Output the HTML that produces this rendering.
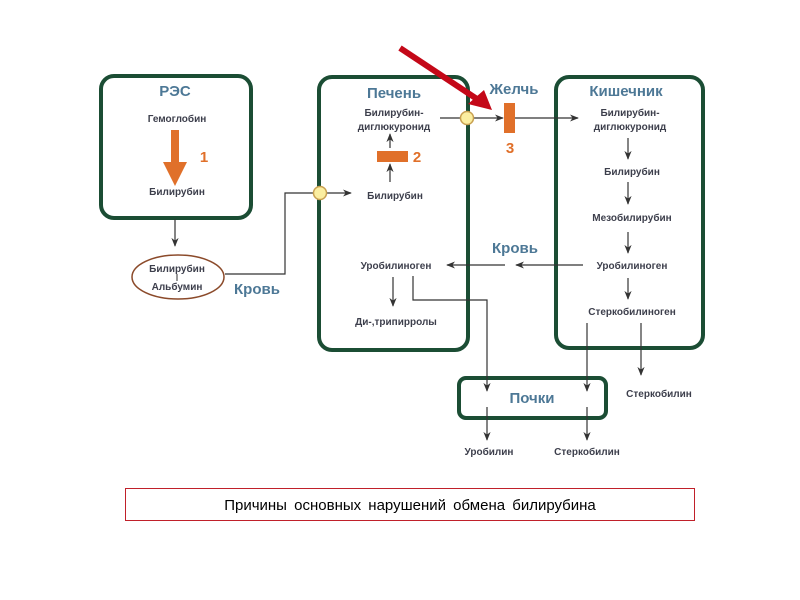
<!DOCTYPE html>
<html><head><meta charset="utf-8"><style>
html,body{margin:0;padding:0;background:#fff;}
svg{display:block;}
.t{font-family:"Liberation Sans",sans-serif;font-weight:bold;font-size:10px;fill:#3d3f4c;text-anchor:middle;}
.h{font-family:"Liberation Sans",sans-serif;font-weight:bold;font-size:15px;fill:#4d7896;text-anchor:middle;}
.o{font-family:"Liberation Sans",sans-serif;font-weight:bold;font-size:15px;fill:#e0702a;text-anchor:middle;}
.b{fill:none;stroke:#1b4d34;stroke-width:4;}
.l{fill:none;stroke:#333;stroke-width:1.2;}
</style></head><body>
<svg width="800" height="600" viewBox="0 0 800 600">
<defs>
<marker id="a" viewBox="0 0 10 10" refX="9" refY="5" markerWidth="9" markerHeight="9" orient="auto" markerUnits="userSpaceOnUse"><path d="M0,1 L10,5 L0,9 L3,5 z" fill="#333"/></marker>
</defs>
<rect class="b" x="101" y="76" width="150" height="142" rx="13"/>
<rect class="b" x="319" y="77" width="149" height="273" rx="13"/>
<rect class="b" x="556" y="77" width="147" height="271" rx="13"/>
<rect class="b" x="459" y="378" width="147" height="40" rx="7"/>
<ellipse cx="178" cy="277" rx="46" ry="22" fill="none" stroke="#8b4a2a" stroke-width="1.5"/>

<text class="h" x="175" y="96">РЭС</text>
<text class="h" x="394" y="98">Печень</text>
<text class="h" x="514" y="94">Желчь</text>
<text class="h" x="626" y="96">Кишечник</text>
<text class="h" x="532" y="403">Почки</text>
<text class="h" x="515" y="253">Кровь</text>
<text class="h" x="257" y="294">Кровь</text>

<text class="t" x="177" y="122">Гемоглобин</text>
<path d="M171,130 h8 v32 h8 l-12,24 l-12,-24 h8 z" fill="#e0702a"/>
<text class="o" x="204" y="162">1</text>
<text class="t" x="177" y="195">Билирубин</text>
<line class="l" x1="175" y1="219" x2="175" y2="246" marker-end="url(#a)"/>
<text class="t" x="177" y="272">Билирубин</text>
<line x1="177" y1="274" x2="177" y2="281" stroke="#333" stroke-width="1"/>
<text class="t" x="177" y="290">Альбумин</text>

<polyline class="l" points="225,274 285,274 285,193 351,193" marker-end="url(#a)"/>
<circle cx="320" cy="193" r="6.5" fill="#fbeea0" stroke="#c8a050" stroke-width="1.5"/>

<text class="t" x="394" y="116">Билирубин-</text>
<text class="t" x="394" y="130">диглюкуронид</text>
<line class="l" x1="390" y1="148" x2="390" y2="134" marker-end="url(#a)"/>
<rect x="377" y="151" width="31" height="11" fill="#e0702a"/>
<text class="o" x="417" y="162">2</text>
<line class="l" x1="390" y1="182" x2="390" y2="164" marker-end="url(#a)"/>
<text class="t" x="395" y="199">Билирубин</text>

<line class="l" x1="440" y1="118" x2="503" y2="118" marker-end="url(#a)"/>
<circle cx="467" cy="118" r="6.5" fill="#fbeea0" stroke="#c8a050" stroke-width="1.5"/>
<rect x="504" y="103" width="11" height="30" fill="#e0702a"/>
<text class="o" x="510" y="153">3</text>
<line class="l" x1="515" y1="118" x2="578" y2="118" marker-end="url(#a)"/>

<text class="t" x="630" y="116">Билирубин-</text>
<text class="t" x="630" y="130">диглюкуронид</text>
<line class="l" x1="628" y1="138" x2="628" y2="159" marker-end="url(#a)"/>
<text class="t" x="632" y="175">Билирубин</text>
<line class="l" x1="628" y1="182" x2="628" y2="204" marker-end="url(#a)"/>
<text class="t" x="632" y="221">Мезобилирубин</text>
<line class="l" x1="628" y1="232" x2="628" y2="253" marker-end="url(#a)"/>
<text class="t" x="632" y="269">Уробилиноген</text>
<line class="l" x1="628" y1="278" x2="628" y2="299" marker-end="url(#a)"/>
<text class="t" x="632" y="315">Стеркобилиноген</text>

<line class="l" x1="583" y1="265" x2="516" y2="265" marker-end="url(#a)"/>
<line class="l" x1="505" y1="265" x2="447" y2="265" marker-end="url(#a)"/>
<text class="t" x="396" y="269">Уробилиноген</text>
<line class="l" x1="393" y1="277" x2="393" y2="306" marker-end="url(#a)"/>
<text class="t" x="396" y="325">Ди-,трипирролы</text>
<polyline class="l" points="413,276 413,300 487,300 487,391" marker-end="url(#a)"/>
<line class="l" x1="487" y1="407" x2="487" y2="440" marker-end="url(#a)"/>
<text class="t" x="489" y="455">Уробилин</text>
<line class="l" x1="587" y1="323" x2="587" y2="391" marker-end="url(#a)"/>
<line class="l" x1="587" y1="407" x2="587" y2="440" marker-end="url(#a)"/>
<text class="t" x="587" y="455">Стеркобилин</text>
<line class="l" x1="641" y1="323" x2="641" y2="375" marker-end="url(#a)"/>
<text class="t" x="659" y="397">Стеркобилин</text>

<line x1="400" y1="48" x2="480" y2="101" stroke="#c40818" stroke-width="6"/>
<path d="M492,110 L468,104 L484,90 z" fill="#c40818"/>

<rect x="125.5" y="488.5" width="569" height="32" fill="#fff" stroke="#c0202a" stroke-width="1"/>
<text x="410" y="510" style="font-family:'Liberation Sans',sans-serif;font-size:15px;fill:#000;text-anchor:middle;word-spacing:3px">Причины основных нарушений обмена билирубина</text>
</svg>
</body></html>
